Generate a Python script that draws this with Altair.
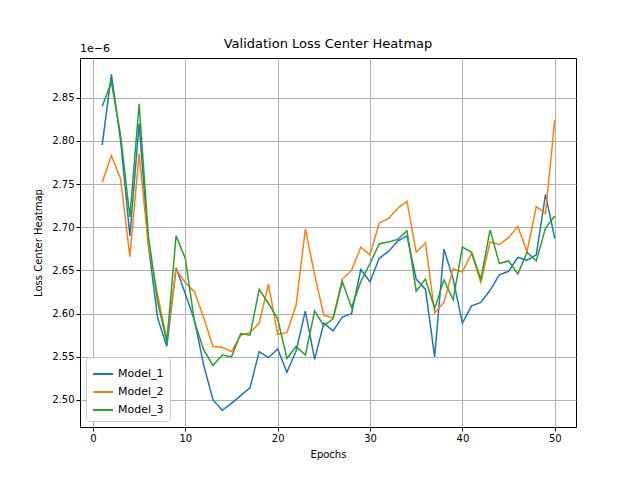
import pandas as pd
import altair as alt

epochs = list(range(1, 51))
# values in units of 1e-6
model_1 = [2.795, 2.877, 2.800, 2.690, 2.820, 2.680, 2.595, 2.562, 2.653, 2.623,
           2.592, 2.540, 2.500, 2.488, 2.496, 2.505, 2.514, 2.556, 2.549, 2.559,
           2.532, 2.557, 2.603, 2.547, 2.589, 2.580, 2.596, 2.600, 2.651, 2.637,
           2.664, 2.672, 2.684, 2.690, 2.640, 2.628, 2.550, 2.675, 2.640, 2.589,
           2.609, 2.613, 2.627, 2.645, 2.649, 2.665, 2.662, 2.668, 2.738, 2.687]
model_2 = [2.752, 2.783, 2.756, 2.666, 2.785, 2.680, 2.622, 2.570, 2.651, 2.636,
           2.625, 2.595, 2.562, 2.561, 2.556, 2.575, 2.578, 2.589, 2.634, 2.576,
           2.578, 2.610, 2.698, 2.645, 2.598, 2.595, 2.640, 2.650, 2.677, 2.668,
           2.705, 2.710, 2.722, 2.730, 2.671, 2.682, 2.601, 2.613, 2.652, 2.648,
           2.670, 2.636, 2.683, 2.680, 2.688, 2.701, 2.672, 2.724, 2.716, 2.824]
model_3 = [2.840, 2.868, 2.806, 2.712, 2.843, 2.690, 2.614, 2.567, 2.690, 2.664,
           2.590, 2.558, 2.540, 2.552, 2.550, 2.577, 2.575, 2.628, 2.612, 2.594,
           2.548, 2.562, 2.552, 2.603, 2.586, 2.594, 2.637, 2.607, 2.637, 2.658,
           2.681, 2.683, 2.686, 2.696, 2.626, 2.640, 2.606, 2.639, 2.616, 2.677,
           2.671, 2.640, 2.697, 2.658, 2.661, 2.646, 2.671, 2.661, 2.699, 2.713]
models = ["Model_1", "Model_2", "Model_3"]
colors = ["#1f77b4", "#ff7f0e", "#2ca02c"]

rows = []
for name, vals in zip(models, [model_1, model_2, model_3]):
    for e, v in zip(epochs, vals):
        rows.append({"Epochs": e, "Loss": v, "Model": name})
df = pd.DataFrame(rows)

lines = alt.Chart(df).mark_line(strokeWidth=1.5, clip=True).encode(
    x=alt.X("Epochs:Q", scale=alt.Scale(domain=[-1.4, 52.3], nice=False, zero=False),
            axis=alt.Axis(values=[0, 10, 20, 30, 40, 50], title="Epochs", titlePadding=6)),
    y=alt.Y("Loss:Q", scale=alt.Scale(domain=[2.4687, 2.896], nice=False, zero=False),
            axis=alt.Axis(values=[2.50, 2.55, 2.60, 2.65, 2.70, 2.75, 2.80, 2.85],
                          format=".2f", title="Loss Center Heatmap", titlePadding=8)),
    color=alt.Color("Model:N", scale=alt.Scale(domain=models, range=colors),
                    legend=alt.Legend(title=None, orient="bottom-left", offset=6,
                                      symbolType="stroke", symbolSize=400,
                                      symbolStrokeWidth=2, labelFontSize=11,
                                      strokeColor="#cccccc", fillColor="white",
                                      padding=6, cornerRadius=3)),
)

exponent = alt.Chart(pd.DataFrame({"t": ["1e\u22126"]})).mark_text(
    align="left", baseline="bottom", fontSize=11, font="DejaVu Sans"
).encode(x=alt.value(0), y=alt.value(-4), text="t:N")

title = alt.Chart(pd.DataFrame({"t": ["Validation Loss Center Heatmap"]})).mark_text(
    align="center", baseline="bottom", fontSize=13, font="DejaVu Sans"
).encode(x=alt.value(248), y=alt.value(-7), text="t:N")

chart = alt.layer(lines, exponent, title).properties(
    width=496, height=369,
    autosize=alt.AutoSizeParams(type="none"),
    padding={"left": 72, "top": 50, "right": 56, "bottom": 45},
).configure_view(stroke="black", strokeWidth=1).configure_axis(
    grid=True, gridColor="#b0b0b0", gridOpacity=1, domain=False,
    tickColor="black", tickSize=4, labelColor="black", labelFont="DejaVu Sans",
    labelFontSize=10, titleFont="DejaVu Sans", titleFontSize=10,
    titleFontWeight="normal", titleColor="black",
).configure_legend(labelFont="DejaVu Sans")

chart.save("out.html", embed_options={"renderer": "svg", "actions": False})
